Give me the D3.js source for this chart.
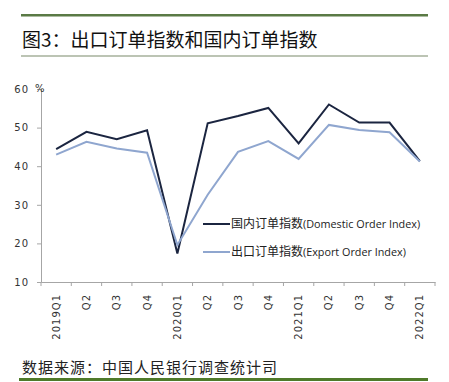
<!DOCTYPE html>
<html><head><meta charset="utf-8">
<script src="https://cdn.jsdelivr.net/npm/d3@7"></script>
<style>body{margin:0;background:#fff}svg{display:block}</style>
</head><body>
<script>
const categories = ["2019Q1","Q2","Q3","Q4","2020Q1","Q2","Q3","Q4","2021Q1","Q2","Q3","Q4","2022Q1"];
const domestic = [44.4,48.9,47.0,49.3,17.4,51.1,53.0,55.1,45.9,56.0,51.3,51.3,41.3];
const exportIdx = [43.0,46.3,44.6,43.5,19.6,32.6,43.7,46.5,41.9,50.7,49.4,48.8,41.2];
const yTicks = [10,20,30,40,50,60];
const seriesNames = ["国内订单指数(Domestic Order Index)","出口订单指数(Export Order Index)"];

const W=449,H=382;
const svg=d3.select("body").append("svg").attr("width",W).attr("height",H);
const font="'Noto Sans CJK SC', sans-serif";

svg.append("rect").attr("x",21).attr("y",14).attr("width",407).attr("height",2.5).attr("fill","#5a7a45");
svg.append("text").attr("x",22).attr("y",47).attr("font-family",font).attr("font-size",19).attr("fill","#111").text("图3：出口订单指数和国内订单指数");
svg.append("rect").attr("x",21).attr("y",55.5).attr("width",407).attr("height",1).attr("fill","#7a8a6a");

const x=d3.scaleBand().domain(d3.range(categories.length)).range([41,435]);
const y=d3.scaleLinear().domain([10,60]).range([282,89]);

const gy=svg.append("g").attr("transform","translate(41,0)")
  .call(d3.axisLeft(y).tickValues(yTicks).tickSize(4).tickPadding(8));
gy.select(".domain").attr("stroke","#a6a6a6");
gy.selectAll(".tick line").attr("stroke","#a6a6a6");
gy.selectAll("text").attr("font-family","'DejaVu Sans', sans-serif").attr("font-size",10).attr("letter-spacing",1).attr("fill","#333");

const gx=svg.append("g").attr("transform","translate(0,282)")
  .call(d3.axisBottom(x).tickFormat(i=>categories[i]).tickSize(0));
gx.select(".domain").attr("stroke","#a6a6a6");
gx.selectAll("text").attr("font-family","'DejaVu Sans', sans-serif").attr("font-size",10).attr("letter-spacing",1).attr("fill","#333")
  .attr("transform","rotate(-90)").attr("text-anchor","end").attr("dy","0.35em").attr("x",-12).attr("y",0);
const bounds=d3.range(categories.length+1).map(i=>i===categories.length?x.range()[1]:x(i));
svg.append("g").selectAll("line").data(bounds).join("line")
  .attr("x1",d=>d).attr("x2",d=>d).attr("y1",282).attr("y2",286).attr("stroke","#a6a6a6");

svg.append("text").attr("x",35).attr("y",92).attr("font-family","'DejaVu Sans', sans-serif").attr("font-size",10).attr("fill","#333").text("%");

const line=d3.line().x((d,i)=>x(i)+x.bandwidth()/2).y(d=>y(d));
const colors=["#1b2540","#8fa6cf"];
[domestic,exportIdx].forEach((s,k)=>{
  svg.append("path").datum(s).attr("d",line).attr("fill","none").attr("stroke",colors[k]).attr("stroke-width",2).attr("stroke-linejoin","miter");
});

const leg=svg.append("g");
seriesNames.forEach((n,k)=>{
  const ly=224+k*28;
  leg.append("line").attr("x1",203).attr("x2",230).attr("y1",ly).attr("y2",ly).attr("stroke",colors[k]).attr("stroke-width",2);
  const cjk=n.slice(0,6), lat=n.slice(6);
  const t=leg.append("text").attr("x",231).attr("y",ly+4).attr("fill","#222");
  t.append("tspan").attr("font-family",font).attr("font-size",12).text(cjk);
  t.append("tspan").attr("font-family","'Open Sans', sans-serif").attr("font-size",10.8).text(lat);
});

svg.append("text").attr("x",22).attr("y",373).attr("font-family",font).attr("font-size",15).attr("letter-spacing",1).attr("fill","#222").text("数据来源：中国人民银行调查统计司");
svg.append("rect").attr("x",19).attr("y",378).attr("width",409).attr("height",3).attr("fill","#4f7a2a");
</script>
</body></html>
